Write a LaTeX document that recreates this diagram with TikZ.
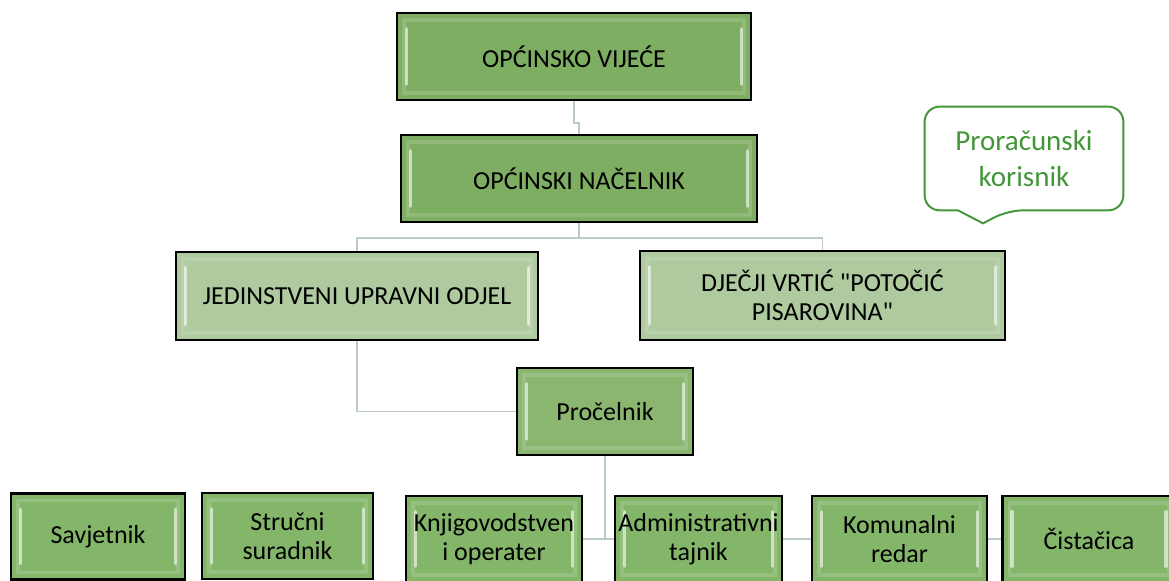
\documentclass[tikz,border=0pt]{standalone}
\usepackage{fontspec}
\setmainfont{Carlito}
\usepackage{tikz}
\usetikzlibrary{calc}
\definecolor{tamna}{RGB}{126,174,98}
\definecolor{svijetla}{RGB}{174,202,158}
\definecolor{srednja}{RGB}{138,182,112}
\definecolor{donja}{RGB}{132,182,106}
\definecolor{linija}{RGB}{186,202,196}
\definecolor{zelena}{RGB}{66,150,56}
\newcommand{\tekst}{\fontsize{14.8}{16.5}\selectfont}
\newcommand{\oblaktekst}{\fontsize{16.5}{21}\selectfont}
\tikzstyle{kutija} = [rectangle, draw=black, line width=1.4pt, align=center, inner sep=0pt, font=\tekst,
path picture={
\draw[white, opacity=0.15, line width=2pt] ([shift={(4pt,-4pt)}]path picture bounding box.north west) rectangle ([shift={(-4pt,4pt)}]path picture bounding box.south east);
\draw[white, opacity=0.6, line width=2pt, line cap=round] ([shift={(5.5pt,-9pt)}]path picture bounding box.north west) -- ([shift={(5.5pt,9pt)}]path picture bounding box.south west);
\draw[white, opacity=0.6, line width=2pt, line cap=round] ([shift={(-5.5pt,-9pt)}]path picture bounding box.north east) -- ([shift={(-5.5pt,9pt)}]path picture bounding box.south east);
}]
\tikzstyle{glavni} = [kutija, fill=tamna, minimum height=1.74cm]
\tikzstyle{odjel} = [kutija, fill=svijetla, minimum height=1.77cm]
\tikzstyle{sef} = [kutija, fill=srednja, minimum width=3.52cm, minimum height=1.74cm]
\tikzstyle{radnik} = [kutija, fill=donja, minimum height=1.72cm]
\tikzstyle{veza} = [draw=linija, line width=0.9pt]
\tikzstyle{oblak} = [rectangle, minimum width=3.96cm, minimum height=2.06cm, align=center, text=zelena, font=\oblaktekst]
\tikzstyle{obrub} = [draw=zelena, line width=1.1pt]

\begin{document}
\begin{tikzpicture}
	\useasboundingbox (0,0) rectangle (23.38,-11.6);
	\clip (0,0) rectangle (23.38,-11.6);
	\node (vijece) at (11.48,-1.13) [glavni, minimum width=7.08cm] {OPĆINSKO VIJEĆE};
	\node (nacelnik) at (11.58,-3.57) [glavni, minimum width=7.12cm] {OPĆINSKI NAČELNIK};
	\node (juo) at (7.14,-5.92) [odjel, minimum width=7.24cm] {JEDINSTVENI UPRAVNI ODJEL};
	\node (vrtic) at (16.45,-5.91) [odjel, minimum width=7.3cm] {DJEČJI VRTIĆ \textquotedbl POTOČIĆ\\PISAROVINA\textquotedbl};
	\node (procelnik) at (12.1,-8.23) [sef] {Pročelnik};
	\node (savjetnik) at (1.96,-10.73) [radnik, minimum width=3.48cm] {Savjetnik};
	\node (strucni) at (5.75,-10.72) [radnik, minimum width=3.42cm] {Stručni\\suradnik};
	\node (knjig) at (9.88,-10.78) [radnik, minimum width=3.52cm] {Knjigovodstven\\i operater};
	\node (admin) at (13.97,-10.78) [radnik, minimum width=3.34cm] {Administrativni\\tajnik};
	\node (komunalni) at (17.99,-10.78) [radnik, minimum width=3.5cm] {Komunalni\\redar};
	\node (cistacica) at (21.78,-10.78) [radnik, minimum width=3.46cm] {Čistačica};
	\node (korisnik) at (20.48,-3.17) [oblak] {Proračunski\\korisnik};
	\draw[veza] (vijece.south) -- ++(0,-0.44) -| (nacelnik.north);
	\draw[veza] (nacelnik.south) -- ++(0,-0.3) -| (juo.north);
	\draw[veza] (nacelnik.south) -- ++(0,-0.3) -| (vrtic.north);
	\draw[veza] (juo.south) |- (procelnik.west);
	\draw[veza] (procelnik.south) -- (procelnik.south |- knjig.east);
	\draw[veza] (knjig) -- (admin);
	\draw[veza] (admin) -- (komunalni);
	\draw[veza] (komunalni) -- (cistacica);
	\draw[obrub] (korisnik.north) [rounded corners=0.3cm] -- (korisnik.north east) -- (korisnik.south east) -- ([xshift=-0.32cm]korisnik.south) [sharp corners] -- ([xshift=-0.82cm,yshift=-0.26cm]korisnik.south) -- ([xshift=-1.32cm]korisnik.south) [rounded corners=0.3cm] -- (korisnik.south west) -- (korisnik.north west) -- cycle;
\end{tikzpicture}
\end{document}
